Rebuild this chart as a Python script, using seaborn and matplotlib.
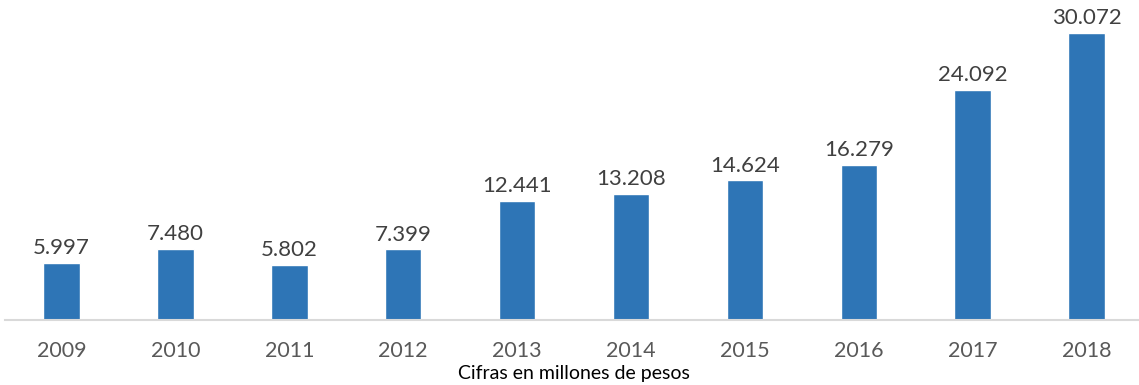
import matplotlib
matplotlib.use("Agg")
import matplotlib.pyplot as plt
import seaborn as sns
import pandas as pd

years = ["2009", "2010", "2011", "2012", "2013", "2014", "2015", "2016", "2017", "2018"]
values = [5997, 7480, 5802, 7399, 12441, 13208, 14624, 16279, 24092, 30072]
labels = ["5.997", "7.480", "5.802", "7.399", "12.441", "13.208", "14.624", "16.279", "24.092", "30.072"]

sns.set_theme(style="white")
plt.rcParams["font.family"] = ["Lato", "DejaVu Sans"]

df = pd.DataFrame({"year": years, "value": values})
fig = plt.figure(figsize=(11.39, 3.85), dpi=100)
ax = fig.add_axes([0.004, 0.1688, 1.0, 0.8312])
sns.barplot(data=df, x="year", y="value", color="#2E75B6", saturation=1, width=0.32, ax=ax)

for i, (v, lab) in enumerate(zip(values, labels)):
    ax.annotate(lab, (i, v), xytext=(0, 3.5), textcoords="offset points",
                ha="center", va="bottom", fontsize=16, color="#404040")

ax.set_xlim(-0.5, 9.5)
ax.set_ylim(0, 33540)
ax.set_yticks([])
ax.set_ylabel("")
for s in ["top", "right", "left"]:
    ax.spines[s].set_visible(False)
ax.spines["bottom"].set_color("#D9D9D9")
ax.spines["bottom"].set_linewidth(1.5)
ax.tick_params(axis="x", length=0, pad=15, labelsize=15.5, labelcolor="#595959")
ax.set_xlabel("Cifras en millones de pesos", fontsize=14, color="black", labelpad=3)
fig.savefig("out.png", dpi=100)
